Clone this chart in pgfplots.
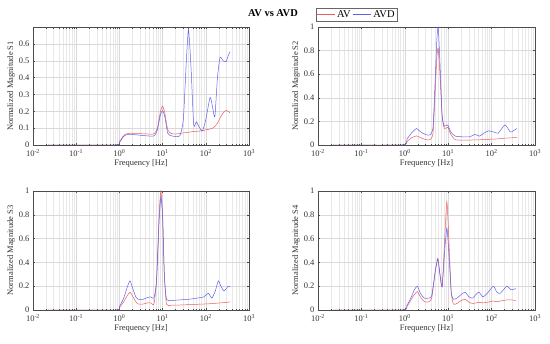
\documentclass[border=0pt]{standalone}
\usepackage{fontspec}
\setmainfont{Liberation Serif}
\usepackage{pgfplots}
\usepackage{pgfplotstable}
\pgfplotsset{compat=1.18}

\definecolor{avred}{RGB}{236,92,92}
\definecolor{avblue}{RGB}{96,96,236}

\pgfplotstableread{
lf av avd
-1.65 0 0
-0.10 0 0
0.00 0.02 0.015
0.08 0.05 0.045
0.15 0.065 0.06
0.25 0.07 0.063
0.40 0.068 0.06
0.60 0.066 0.055
0.80 0.066 0.054
0.88 0.10 0.09
0.95 0.20 0.18
1.00 0.231 0.204
1.05 0.19 0.17
1.12 0.09 0.07
1.20 0.068 0.055
1.30 0.065 0.05
1.40 0.068 0.055
1.48 0.072 0.15
1.55 0.074 0.50
1.60 0.076 0.686
1.66 0.078 0.45
1.72 0.080 0.12
1.78 0.081 0.138
1.84 0.082 0.11
1.92 0.085 0.083
2.00 0.09 0.15
2.10 0.095 0.283
2.16 0.10 0.22
2.21 0.11 0.168
2.27 0.13 0.40
2.33 0.16 0.52
2.40 0.19 0.50
2.47 0.205 0.495
2.52 0.20 0.53
2.56 0.19 0.553
}\sone

\pgfplotstableread{
lf av avd
-1.65 0 0
-0.07 0 0
0.05 0.03 0.05
0.15 0.06 0.10
0.27 0.077 0.14
0.35 0.065 0.115
0.47 0.047 0.09
0.58 0.045 0.085
0.65 0.10 0.15
0.70 0.45 0.55
0.74 0.75 0.90
0.77 0.82 1.00
0.81 0.60 0.70
0.86 0.25 0.25
0.91 0.14 0.16
0.99 0.15 0.17
1.06 0.09 0.11
1.16 0.045 0.075
1.30 0.042 0.07
1.50 0.042 0.07
1.62 0.043 0.09
1.72 0.044 0.075
1.82 0.046 0.10
1.93 0.048 0.12
2.05 0.050 0.11
2.15 0.052 0.10
2.31 0.058 0.17
2.43 0.060 0.11
2.50 0.062 0.12
2.58 0.065 0.14
}\stwo

\pgfplotstableread{
lf av avd
-1.65 0 0
-0.10 0 0
0.00 0.02 0.03
0.10 0.07 0.10
0.18 0.12 0.19
0.245 0.15 0.245
0.30 0.12 0.19
0.38 0.07 0.11
0.44 0.05 0.09
0.55 0.05 0.09
0.65 0.06 0.105
0.73 0.06 0.11
0.80 0.05 0.10
0.86 0.25 0.25
0.92 0.80 0.75
0.96 1.00 0.95
1.00 0.80 0.78
1.04 0.30 0.30
1.09 0.05 0.09
1.20 0.04 0.08
1.40 0.042 0.085
1.60 0.045 0.09
1.80 0.048 0.10
1.95 0.05 0.11
2.06 0.052 0.14
2.14 0.054 0.10
2.22 0.056 0.16
2.29 0.058 0.245
2.35 0.06 0.20
2.42 0.062 0.16
2.52 0.066 0.20
2.56 0.068 0.195
}\sthree

\pgfplotstableread{
lf av avd
-1.65 0 0
-0.07 0 0
0.05 0.03 0.04
0.15 0.09 0.11
0.22 0.13 0.17
0.29 0.155 0.20
0.36 0.11 0.14
0.45 0.07 0.10
0.55 0.068 0.10
0.62 0.10 0.12
0.70 0.32 0.32
0.76 0.43 0.43
0.81 0.30 0.30
0.86 0.195 0.195
0.92 0.60 0.50
0.97 0.91 0.69
1.02 0.55 0.45
1.07 0.15 0.15
1.12 0.05 0.09
1.20 0.055 0.10
1.30 0.08 0.13
1.39 0.09 0.15
1.48 0.065 0.11
1.56 0.055 0.10
1.64 0.06 0.13
1.71 0.065 0.15
1.80 0.06 0.11
1.90 0.065 0.14
2.04 0.075 0.20
2.12 0.07 0.15
2.20 0.075 0.14
2.35 0.085 0.20
2.45 0.085 0.17
2.56 0.08 0.18
}\sfour

\tikzset{avline/.style={avred, line width=0.5pt, smooth, tension=0.35},
         avdline/.style={avblue, line width=0.5pt, smooth, tension=0.35}}

\pgfplotsset{every axis/.append style={
    scale only axis,
    log basis x=10,
    xmin=0.01, xmax=1000, ymin=0,
    xtick={0.01,0.1,1,10,100,1000},
    minor xtick={0.02,0.03,0.04,0.05,0.06,0.07,0.08,0.09,
                 0.2,0.3,0.4,0.5,0.6,0.7,0.8,0.9,
                 2,3,4,5,6,7,8,9,
                 20,30,40,50,60,70,80,90,
                 200,300,400,500,600,700,800,900},
    xticklabel={10\textsuperscript{\pgfmathprintnumber{\tick}}},
    xticklabel style={yshift=-1.5pt},
    tick align=inside,
    tick style={color=black!70, line width=0.4pt},
    major tick length=2.5pt, minor tick length=1.5pt,
    axis line style={black!70, line width=0.4pt},
    grid=both,
    major grid style={black!15, line width=0.4pt},
    minor grid style={black!9, line width=0.35pt},
    xlabel={Frequency [Hz]},
    xlabel style={yshift=4pt},
    ylabel style={yshift=-3pt},
  }}
\pgfplotsset{every tick label/.append style={font=\fontsize{8.5}{9}\selectfont, text=black!80}}
\pgfplotsset{every axis label/.append style={font=\fontsize{8.5}{9}\selectfont, text=black!80}}
\pgfplotsset{/pgf/number format/assume math mode=true}
\pgfplotsset{legend image code/.code={\draw[#1] (0bp,0bp) -- (18bp,0bp);}}

\begin{document}
\begin{tikzpicture}
\useasboundingbox (0bp,0bp) rectangle (550bp,344bp);
\node[font=\bfseries\fontsize{10.5}{12}\selectfont] at (273bp,331bp) {AV vs AVD};

\begin{semilogxaxis}[at={(33bp,199bp)}, anchor=south west, width=216bp, height=118bp,
  ymax=0.7, ytick={0,0.1,0.2,0.3,0.4,0.5,0.6},
  ylabel={Normalized Magnitude S1}]
\addplot[avline] table[x expr={10^\thisrow{lf}}, y=av] {\sone};
\addplot[avdline] table[x expr={10^\thisrow{lf}}, y=avd] {\sone};
\end{semilogxaxis}

\begin{semilogxaxis}[at={(318bp,199bp)}, anchor=south west, width=217bp, height=118bp,
  ymax=1, ytick={0,0.2,0.4,0.6,0.8,1},
  ylabel={Normalized Magnitude S2},
  legend columns=2,
  legend style={at={(-0.01,1.165)}, anchor=north west, draw=black!60, line width=0.4pt,
    font=\fontsize{10.5}{11}\selectfont, inner sep=0.5pt}]
\addplot[avline] table[x expr={10^\thisrow{lf}}, y=av] {\stwo};
\addlegendentry{AV}
\addplot[avdline] table[x expr={10^\thisrow{lf}}, y=avd] {\stwo};
\addlegendentry{AVD}
\end{semilogxaxis}

\begin{semilogxaxis}[at={(33bp,34bp)}, anchor=south west, width=216bp, height=119bp,
  ymax=1, ytick={0,0.2,0.4,0.6,0.8,1},
  ylabel={Normalized Magnitude S3}]
\addplot[avline] table[x expr={10^\thisrow{lf}}, y=av] {\sthree};
\addplot[avdline] table[x expr={10^\thisrow{lf}}, y=avd] {\sthree};
\end{semilogxaxis}

\begin{semilogxaxis}[at={(318bp,34bp)}, anchor=south west, width=217bp, height=119bp,
  ymax=1, ytick={0,0.2,0.4,0.6,0.8,1},
  ylabel={Normalized Magnitude S4}]
\addplot[avline] table[x expr={10^\thisrow{lf}}, y=av] {\sfour};
\addplot[avdline] table[x expr={10^\thisrow{lf}}, y=avd] {\sfour};
\end{semilogxaxis}
\end{tikzpicture}
\end{document}
